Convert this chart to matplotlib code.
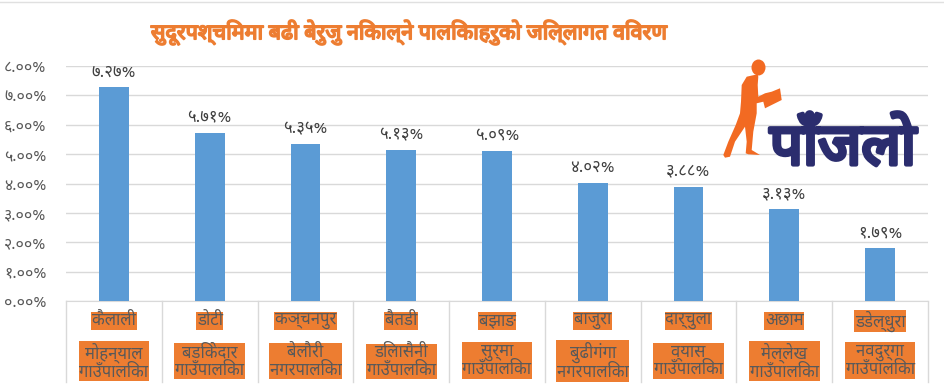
import matplotlib
matplotlib.use("Agg")
import matplotlib.pyplot as plt
import matplotlib.patheffects as pe
from matplotlib import font_manager
from matplotlib.ft2font import FT2Font
from matplotlib.patches import Polygon, Ellipse

title = "सुदूरपश्चिममा बढी बेरुजु निकाल्ने पालिकाहरुको जिल्लागत विवरण"
districts = ["कैलाली", "डोटी", "कञ्चनपुर", "बैतडी", "बझाङ",
             "बाजुरा", "दार्चुला", "अछाम", "डडेल्धुरा"]
palikas = ["मोहन्याल\nगाउँपालिका", "बडिकेदार\nगाउँपालिका", "बेलौरी\nनगरपालिका",
           "डिलासैनी\nगाउँपालिका", "सुर्मा\nगाउँपालिका", "बुढीगंगा\nनगरपालिका",
           "व्यास\nगाउँपालिका", "मेल्लेख\nगाउँपालिका", "नवदुर्गा\nगाउँपालिका"]
values = [7.27, 5.71, 5.35, 5.13, 5.09, 4.02, 3.88, 3.13, 1.79]
value_labels = ["७.२७%", "५.७१%", "५.३५%", "५.१३%", "५.०९%",
                "४.०२%", "३.८८%", "३.१३%", "१.७९%"]
yticks = [0, 1, 2, 3, 4, 5, 6, 7, 8]
ytick_labels = ["०.००%", "१.००%", "२.००%", "३.००%", "४.००%",
                "५.००%", "६.००%", "७.००%", "८.००%"]


def pick_devanagari():
    names = set()
    for f in font_manager.fontManager.ttflist:
        try:
            if 0x0915 in FT2Font(f.fname).get_charmap():
                names.add(f.name)
        except Exception:
            pass
    for pref in ["Noto Sans Devanagari", "Noto Sans Devanagari UI", "Mukta",
                 "Hind", "Yantramanav", "Poppins", "Lohit Devanagari",
                 "FreeSans"]:
        if pref in names:
            return pref
    return sorted(names)[0] if names else None


dev = pick_devanagari()
plt.rcParams["font.family"] = ([dev] if dev else []) + ["DejaVu Sans"]

BLUE = "#5B9BD5"
ORANGE = "#ED7D31"
GREY = "#595959"
W, H = 945, 387

fig = plt.figure(figsize=(W / 100, H / 100), dpi=100)
ax = fig.add_axes([66 / W, 1 - 301 / H, (928 - 66) / W, (301 - 66) / H])

x = list(range(len(values)))
ax.bar(x, values, width=0.31, color=BLUE, zorder=3)
for xi, v, lab in zip(x, values, value_labels):
    ax.annotate(lab, (xi, v), xytext=(0, 5), textcoords="offset points",
                ha="center", va="bottom", fontsize=12, color="#404040")

ax.set_xlim(-0.5, len(values) - 0.5)
ax.set_ylim(0, 8)
ax.set_yticks(yticks)
ax.set_yticklabels(ytick_labels, fontsize=11.5, color=GREY)
ax.tick_params(axis="y", length=0, pad=14)
ax.set_xticks([])
ax.grid(axis="y", color="#D9D9D9", linewidth=1, zorder=0)
for s in ["top", "right", "left"]:
    ax.spines[s].set_visible(False)
ax.spines["bottom"].set_color("#D9D9D9")

# multi-level category axis
tr = ax.get_xaxis_transform()
for b in [i - 0.5 for i in range(len(values) + 1)]:
    ax.plot([b, b], [0, -0.345], transform=tr, color="#D9D9D9",
            linewidth=1, clip_on=False)
for xi, d, p in zip(x, districts, palikas):
    ax.text(xi, -0.085, d, transform=tr, ha="center", va="center",
            fontsize=12, color=GREY,
            bbox=dict(boxstyle="square,pad=0.05", fc=ORANGE, ec="none"))
    ax.text(xi, -0.257, p, transform=tr, ha="center", va="center",
            fontsize=12, color=GREY, linespacing=1.1,
            bbox=dict(boxstyle="square,pad=0.05", fc=ORANGE, ec="none"))

fig.text(410 / W, 1 - 32 / H, title, ha="center", va="center",
         fontsize=15.5, fontweight="bold", color=ORANGE,
         path_effects=[pe.withStroke(linewidth=1.2, foreground=ORANGE)])
fig.add_artist(plt.Line2D([0, 1], [1 - 2 / H, 1 - 2 / H], color="#E0E0E0",
                          linewidth=1, transform=fig.transFigure))

# logo: reading man + wordmark
fig.text(843 / W, 1 - 149 / H, "पाँजलो", ha="center", va="center",
         fontsize=42, fontweight="bold", color="#2B2D6E",
         path_effects=[pe.withStroke(linewidth=3, foreground="#2B2D6E")])
man = [(754.3, 75), (746.7, 76.7), (741.7, 85), (741, 101.7), (740, 113.3),
       (735.7, 125), (728.3, 141.7), (723.3, 155), (725, 157.7), (730, 156.7),
       (735, 141.7), (745, 126.7), (746.7, 141.7), (745.7, 153.3),
       (748.3, 154.3), (760, 155), (751.7, 150), (753.3, 131.7),
       (756.7, 113.3), (756.7, 103.3), (763.3, 101.7), (765, 108.3),
       (781.7, 100), (780, 88.3), (771.7, 91.7), (765, 93.3), (758.3, 96.7),
       (757.7, 85), (758.3, 76.7), (757.7, 74.3)]
fig.add_artist(Polygon([(px / W, 1 - py / H) for px, py in man], closed=True,
                       fc="#F26A22", ec="none", transform=fig.transFigure))
fig.add_artist(Ellipse((758.5 / W, 1 - 67.5 / H), 14 / W, 16 / H,
                       fc="#F26A22", ec="none", transform=fig.transFigure))

fig.savefig("out.png", dpi=100)
